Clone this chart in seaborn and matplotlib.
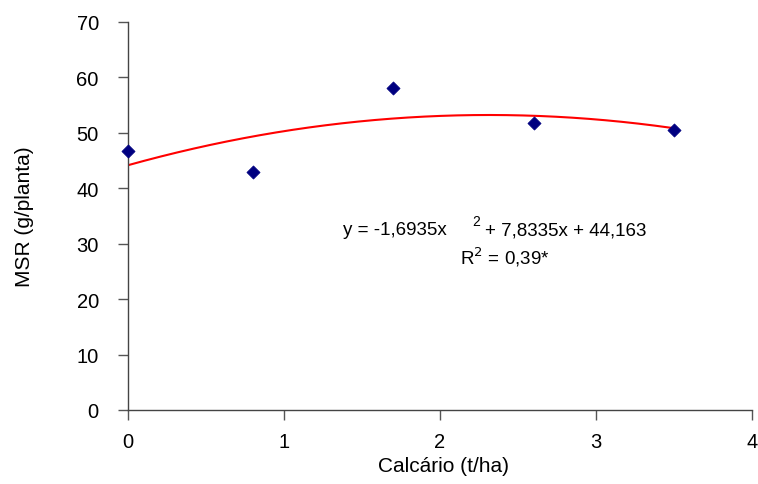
import numpy as np
import pandas as pd
import matplotlib
matplotlib.use("Agg")
import matplotlib.pyplot as plt
import seaborn as sns

# Data
calcario = [0.0, 0.8, 1.7, 2.6, 3.5]
msr = [46.7, 42.9, 58.1, 51.8, 50.5]
# Trendline coefficients (as displayed)
coef_a, coef_b, coef_c = -1.6935, 7.8335, 44.163
x_ticks = [0, 1, 2, 3, 4]
y_ticks = [0, 10, 20, 30, 40, 50, 60, 70]

sns.set_theme(style="white")
plt.rcParams['font.family'] = ['Liberation Sans', 'DejaVu Sans']
plt.rcParams['text.color'] = 'black'
plt.rcParams['axes.labelcolor'] = 'black'

W, H = 758, 485
fig = plt.figure(figsize=(W/100, H/100), dpi=100)
ax = fig.add_axes([128/W, 1-411/H, (752-128)/W, (411-23)/H])

df = pd.DataFrame({"x": calcario, "y": msr})
xs = np.linspace(min(calcario), max(calcario), 200)
trend = pd.DataFrame({"x": xs, "y": coef_a*xs**2 + coef_b*xs + coef_c})

sns.lineplot(data=trend, x="x", y="y", ax=ax, color="#ff0000", linewidth=1.5)
sns.scatterplot(data=df, x="x", y="y", ax=ax, marker="D", s=45, color="#000080",
                edgecolor="#000080", linewidth=0.5, zorder=5, clip_on=False)

ax.set_xlim(0, 4)
ax.set_ylim(0, 70)
ax.set_xticks(x_ticks)
ax.set_yticks(y_ticks)
ax.set_xticklabels([str(v) for v in x_ticks])
ax.set_yticklabels([str(v) for v in y_ticks])
ax.tick_params(axis='both', which='both', direction='out', length=7, width=1,
               color='#555555', labelsize=14.5, labelcolor='black',
               bottom=True, left=True)
ax.tick_params(axis='y', pad=14)
ax.tick_params(axis='x', pad=9)

for s in ['top', 'right']:
    ax.spines[s].set_visible(False)
for s in ['left', 'bottom']:
    ax.spines[s].set_color('#444444')
    ax.spines[s].set_linewidth(1)

ax.set_xlabel("Calcário (t/ha)", fontsize=15, color='black')
ax.set_ylabel("MSR (g/planta)", fontsize=15, color='black')
ax.xaxis.set_label_coords((444-128)/624, (411-457)/388)
ax.yaxis.set_label_coords((34-128)/624, 0.5)

# Trendline equation
fig.text(447/W, 1-231/H, "y = -1,6935x", ha='right', va='center', fontsize=13.5, color='black')
fig.text(476/W, 1-222/H, "2", ha='center', va='center', fontsize=10, color='black')
fig.text(485/W, 1-231/H, "+ 7,8335x + 44,163", ha='left', va='center', fontsize=13.5, color='black')
fig.text(505/W, 1-257/H, "R$^2$ = 0,39*", ha='center', va='center', fontsize=13.5, color='black')

fig.savefig("out.png", dpi=100)
